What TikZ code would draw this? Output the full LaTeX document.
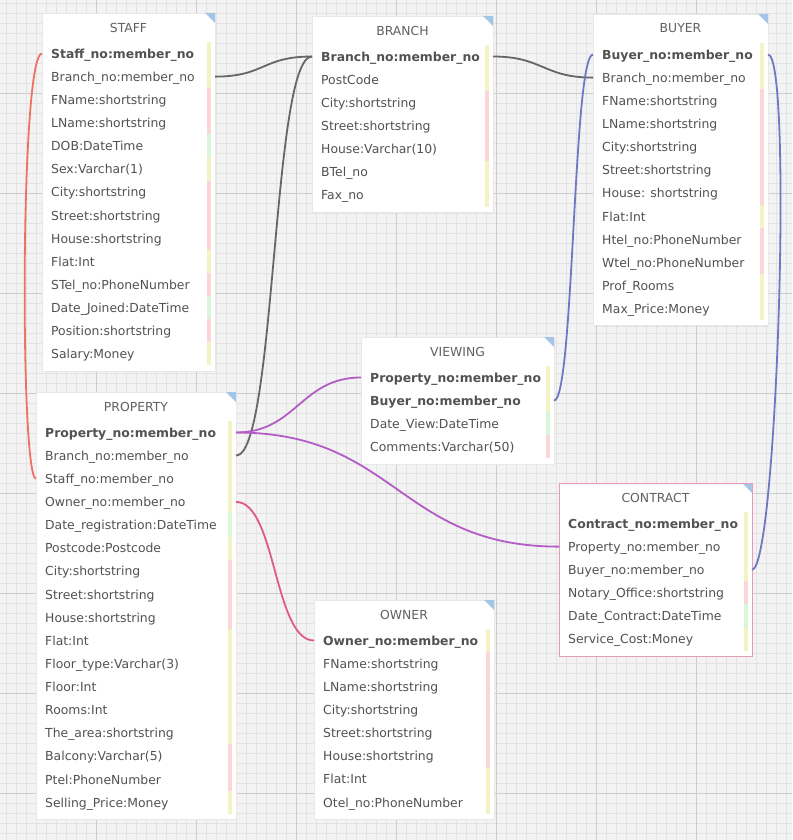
\documentclass[tikz,border=0pt]{standalone}
\usepackage{fontspec}
\setmainfont{DejaVu Sans}
\usepackage{tikz}
\usetikzlibrary{shadows}
\usepackage{xcolor}
\definecolor{sheetbg}{HTML}{F3F3F3}
\definecolor{gridmin}{HTML}{E3E3E3}
\definecolor{gridmaj}{HTML}{CDCDCD}
\definecolor{barY}{HTML}{F3F3C4}
\definecolor{barP}{HTML}{FAD6D8}
\definecolor{barG}{HTML}{D9F6D9}
\definecolor{triblue}{HTML}{A3C6E8}
\definecolor{lnGray}{HTML}{666666}
\definecolor{lnPurple}{HTML}{B45CC6}
\definecolor{lnSalmon}{HTML}{EE7262}
\definecolor{lnRose}{HTML}{E05A88}
\definecolor{lnBlue}{HTML}{7078C4}
\definecolor{selborder}{HTML}{E49BBE}
\tikzstyle{tbl}=[fill=white, draw=black!9, inner sep=0pt, outer sep=0pt, anchor=north west,
  drop shadow={opacity=0.12, shadow xshift=0.8pt, shadow yshift=-1.2pt}]
\tikzstyle{ttl}=[font=\fontsize{12.4}{15}\selectfont, text=black!62, inner sep=0pt]
\tikzstyle{fld}=[font=\fontsize{12.4}{15}\selectfont, text=black!68, inner sep=0pt, anchor=west,
  text height=12pt, text depth=2.5pt]
\tikzstyle{fldkey}=[fld, font=\fontsize{12.4}{15}\selectfont\bfseries]
\tikzstyle{lnk}=[line width=1.8pt]
% #1 name, #2 left, #3 top, #4 width, #5 rows, #6 title, #7 fields
\newcommand{\ertable}[7]{%
  \pgfmathsetmacro{\hgt}{40.5+23.1*(#5-1)+17}
  \node[tbl, minimum width=#4pt, minimum height=\hgt pt] (#1) at (#2,#3) {};
  \fill[triblue] (#1.north east) -- ++(-10,0) -- ++(10,10) -- cycle;
  \node[ttl] (#1-t) at ({#2+#4/2},{#3+14.5}) {#6};
  \foreach \fl/\cl/\st [count=\n] in {#7} {
    \node[\st] (#1-\n) at ({#2+9},{#3+40.5+23.12*(\n-1)}) {\fl};
    \fill[\cl] ({#2+#4-8},{#3+29+23.1*(\n-1)}) rectangle ++(3.5,23.1);
  }
}
\begin{document}
\begin{tikzpicture}[x=1pt,y=-1pt]
\useasboundingbox (0,0) rectangle (792,840);
\fill[sheetbg] (0,0) rectangle (792,840);
\foreach \gx in {6,16,...,786} \draw[gridmin,line width=0.8pt] (\gx,0) -- (\gx,840);
\foreach \gy in {3,13,...,833} \draw[gridmin,line width=0.8pt] (0,\gy) -- (792,\gy);
\foreach \gx in {96,196,...,696} \draw[gridmaj,line width=0.8pt] (\gx,0) -- (\gx,840);
\foreach \gy in {93,193,...,793} \draw[gridmaj,line width=0.8pt] (0,\gy) -- (792,\gy);

\ertable{staff}{42}{13}{173}{14}{STAFF}{
  Staff\_no:member\_no/barY/fldkey, Branch\_no:member\_no/barY/fld,
  FName:shortstring/barP/fld, LName:shortstring/barP/fld, DOB:DateTime/barG/fld,
  Sex:Varchar(1)/barY/fld, City:shortstring/barP/fld, Street:shortstring/barP/fld,
  House:shortstring/barP/fld, Flat:Int/barY/fld, STel\_no:PhoneNumber/barP/fld,
  Date\_Joined:DateTime/barG/fld, Position:shortstring/barP/fld, Salary:Money/barY/fld}
\ertable{branch}{312}{16}{181}{7}{BRANCH}{
  Branch\_no:member\_no/barY/fldkey, PostCode/barY/fld, City:shortstring/barP/fld,
  Street:shortstring/barP/fld, House:Varchar(10)/barP/fld, BTel\_no/barY/fld, Fax\_no/barY/fld}
\ertable{buyer}{593}{14}{175}{12}{BUYER}{
  Buyer\_no:member\_no/barY/fldkey, Branch\_no:member\_no/barY/fld,
  FName:shortstring/barP/fld, LName:shortstring/barP/fld, City:shortstring/barP/fld,
  Street:shortstring/barP/fld, House: shortstring/barP/fld, Flat:Int/barY/fld,
  Htel\_no:PhoneNumber/barP/fld, Wtel\_no:PhoneNumber/barP/fld, Prof\_Rooms/barY/fld,
  Max\_Price:Money/barY/fld}
\ertable{property}{36}{392}{200}{17}{PROPERTY}{
  Property\_no:member\_no/barY/fldkey, Branch\_no:member\_no/barY/fld,
  Staff\_no:member\_no/barY/fld, Owner\_no:member\_no/barY/fld,
  Date\_registration:DateTime/barG/fld, Postcode:Postcode/barY/fld,
  City:shortstring/barP/fld, Street:shortstring/barP/fld, House:shortstring/barP/fld,
  Flat:Int/barY/fld, Floor\_type:Varchar(3)/barY/fld, Floor:Int/barY/fld,
  Rooms:Int/barY/fld, The\_area:shortstring/barY/fld, Balcony:Varchar(5)/barP/fld,
  Ptel:PhoneNumber/barP/fld, Selling\_Price:Money/barY/fld}
\ertable{viewing}{361}{337}{193}{4}{VIEWING}{
  Property\_no:member\_no/barY/fldkey, Buyer\_no:member\_no/barY/fldkey,
  Date\_View:DateTime/barG/fld, Comments:Varchar(50)/barP/fld}
\ertable{contract}{559}{483}{193}{6}{CONTRACT}{
  Contract\_no:member\_no/barY/fldkey, Property\_no:member\_no/barY/fld,
  Buyer\_no:member\_no/barY/fld, Notary\_Office:shortstring/barP/fld,
  Date\_Contract:DateTime/barG/fld, Service\_Cost:Money/barY/fld}
\draw[selborder] (contract.north west) rectangle (contract.south east);
\ertable{owner}{314}{600}{180}{8}{OWNER}{
  Owner\_no:member\_no/barY/fldkey, FName:shortstring/barP/fld,
  LName:shortstring/barP/fld, City:shortstring/barP/fld, Street:shortstring/barP/fld,
  House:shortstring/barP/fld, Flat:Int/barY/fld, Otel\_no:PhoneNumber/barY/fld}

\draw[lnk,lnGray] (staff.east |- staff-2) .. controls +(50,0) and +(-50,0) .. (branch.west |- branch-1);
\draw[lnk,lnGray] (property.east |- property-2) .. controls +(40,0) and +(-40,0) .. (branch.west |- branch-1);
\draw[lnk,lnGray] (branch.east |- branch-1) .. controls +(50,0) and +(-50,0) .. (buyer.west |- buyer-2);
\draw[lnk,lnSalmon] (staff.west |- staff-1) .. controls +(-22,0) and +(-16,0) .. (property.west |- property-3);
\draw[lnk,lnPurple] (property.east |- property-1) .. controls +(60,0) and +(-60,0) .. (viewing.west |- viewing-1);
\draw[lnk,lnPurple] (property.east |- property-1) .. controls +(160,0) and +(-160,0) .. (contract.west |- contract-2);
\draw[lnk,lnRose] (property.east |- property-4) .. controls +(40,0) and +(-40,0) .. (owner.west |- owner-1);
\draw[lnk,lnBlue] (buyer.west |- buyer-1) .. controls +(-20,0) and +(20,0) .. (viewing.east |- viewing-2);
\draw[lnk,lnBlue] (buyer.east |- buyer-1) .. controls +(25,0) and +(25,0) .. (contract.east |- contract-3);
\end{tikzpicture}
\end{document}
